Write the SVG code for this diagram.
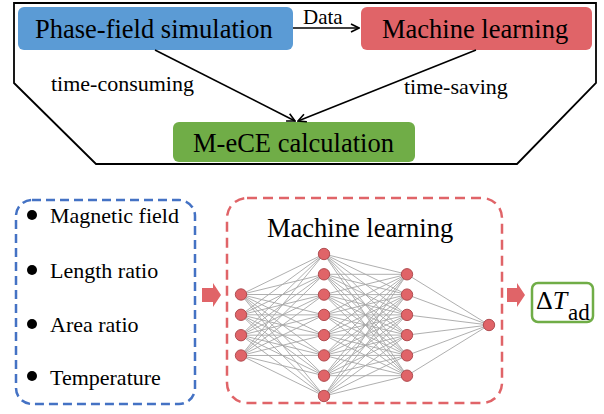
<svg xmlns="http://www.w3.org/2000/svg" width="604" height="414" viewBox="0 0 604 414">
  <style>
    text { font-family: "Liberation Serif", "Times New Roman", serif; fill: #000; }
    .big { font-size: 26.5px; }
    .mid { font-size: 22px; }
    .lbl { font-size: 21px; }
    .conn { fill: none; stroke: #000; stroke-width: 1.6; }
    .frame { fill: none; stroke: #000; stroke-width: 1.8; }
    .wire { fill: none; stroke: #a6a6a6; stroke-width: 0.9; }
    .neuron { fill: #e06468; stroke: #a94448; stroke-width: 0.9; }
    .block { fill: #e06468; }
  </style>
  <defs>
    <marker id="open" viewBox="0 0 10 10" refX="9" refY="5" markerWidth="10" markerHeight="10" markerUnits="userSpaceOnUse" orient="auto">
      <path d="M1 1L9 5L1 9" fill="none" stroke="#000" stroke-width="1.6"/>
    </marker>
  </defs>

  <!-- workflow frame -->
  <polygon class="frame" points="14,3 596,3 596,83 517,164 96,164 14,83"/>

  <g id="phase-field">
    <rect x="18" y="7" width="275" height="43" rx="6" fill="#5b9bd5"/>
    <text class="big" x="35" y="38">Phase-field simulation</text>
  </g>
  <g id="ml-top">
    <rect x="361" y="7" width="231" height="43" rx="6" fill="#e06468"/>
    <text class="big" x="382" y="38">Machine learning</text>
  </g>
  <g id="mece">
    <rect x="173" y="122" width="242" height="40" rx="6" fill="#70ad47"/>
    <text class="big" x="193" y="152">M-eCE calculation</text>
  </g>

  <g id="connectors">
    <line class="conn" x1="293" y1="28" x2="359" y2="28" marker-end="url(#open)"/>
    <line class="conn" x1="155" y1="50" x2="295" y2="121" marker-end="url(#open)"/>
    <line class="conn" x1="476" y1="50" x2="298" y2="121" marker-end="url(#open)"/>
    <text class="lbl" x="303" y="24">Data</text>
    <text class="mid" x="51" y="91">time-consuming</text>
    <text class="mid" x="404" y="94">time-saving</text>
    <polygon class="block" points="202,288 213,288 213,283 221,295 213,307 213,302 202,302"/>
    <polygon class="block" points="507,288 517,288 517,283 525,295 517,307 517,302 507,302"/>
  </g>

  <!-- input features -->
  <g id="inputs">
    <rect x="16" y="200" width="179" height="204" rx="16" fill="none" stroke="#4472c4" stroke-width="2.5" stroke-dasharray="9 5"/>
    <circle cx="32" cy="215" r="5"/>
    <circle cx="32" cy="270" r="5"/>
    <circle cx="32" cy="324" r="5"/>
    <circle cx="32" cy="376" r="5"/>
    <text class="mid" x="50" y="223">Magnetic field</text>
    <text class="mid" x="50" y="278">Length ratio</text>
    <text class="mid" x="50" y="332">Area ratio</text>
    <text class="mid" x="50" y="385">Temperature</text>
  </g>

  <!-- neural network -->
  <g id="network">
    <rect x="227" y="198" width="275" height="205" rx="20" fill="none" stroke="#e06468" stroke-width="2.5" stroke-dasharray="10 6"/>
    <text class="big" x="267" y="237">Machine learning</text>
    <path class="wire" d="
      M241 294.5L324 254M241 294.5L324 274.3M241 294.5L324 294.6M241 294.5L324 314.9M241 294.5L324 335.1M241 294.5L324 355.4M241 294.5L324 375.7M241 294.5L324 396
      M241 314.8L324 254M241 314.8L324 274.3M241 314.8L324 294.6M241 314.8L324 314.9M241 314.8L324 335.1M241 314.8L324 355.4M241 314.8L324 375.7M241 314.8L324 396
      M241 335.2L324 254M241 335.2L324 274.3M241 335.2L324 294.6M241 335.2L324 314.9M241 335.2L324 335.1M241 335.2L324 355.4M241 335.2L324 375.7M241 335.2L324 396
      M241 355.5L324 254M241 355.5L324 274.3M241 355.5L324 294.6M241 355.5L324 314.9M241 355.5L324 335.1M241 355.5L324 355.4M241 355.5L324 375.7M241 355.5L324 396
      M324 254L407 274.3M324 254L407 294.6M324 254L407 314.9M324 254L407 335.1M324 254L407 355.4M324 254L407 375.7
      M324 274.3L407 274.3M324 274.3L407 294.6M324 274.3L407 314.9M324 274.3L407 335.1M324 274.3L407 355.4M324 274.3L407 375.7
      M324 294.6L407 274.3M324 294.6L407 294.6M324 294.6L407 314.9M324 294.6L407 335.1M324 294.6L407 355.4M324 294.6L407 375.7
      M324 314.9L407 274.3M324 314.9L407 294.6M324 314.9L407 314.9M324 314.9L407 335.1M324 314.9L407 355.4M324 314.9L407 375.7
      M324 335.1L407 274.3M324 335.1L407 294.6M324 335.1L407 314.9M324 335.1L407 335.1M324 335.1L407 355.4M324 335.1L407 375.7
      M324 355.4L407 274.3M324 355.4L407 294.6M324 355.4L407 314.9M324 355.4L407 335.1M324 355.4L407 355.4M324 355.4L407 375.7
      M324 375.7L407 274.3M324 375.7L407 294.6M324 375.7L407 314.9M324 375.7L407 335.1M324 375.7L407 355.4M324 375.7L407 375.7
      M324 396L407 274.3M324 396L407 294.6M324 396L407 314.9M324 396L407 335.1M324 396L407 355.4M324 396L407 375.7
      M407 274.3L489 325M407 294.6L489 325M407 314.9L489 325M407 335.1L489 325M407 355.4L489 325M407 375.7L489 325"/>
    <g class="neuron">
      <circle cx="241" cy="294.5" r="5.7"/>
      <circle cx="241" cy="314.8" r="5.7"/>
      <circle cx="241" cy="335.2" r="5.7"/>
      <circle cx="241" cy="355.5" r="5.7"/>
      <circle cx="324" cy="254" r="5.7"/>
      <circle cx="324" cy="274.3" r="5.7"/>
      <circle cx="324" cy="294.6" r="5.7"/>
      <circle cx="324" cy="314.9" r="5.7"/>
      <circle cx="324" cy="335.1" r="5.7"/>
      <circle cx="324" cy="355.4" r="5.7"/>
      <circle cx="324" cy="375.7" r="5.7"/>
      <circle cx="324" cy="396" r="5.7"/>
      <circle cx="407" cy="274.3" r="5.7"/>
      <circle cx="407" cy="294.6" r="5.7"/>
      <circle cx="407" cy="314.9" r="5.7"/>
      <circle cx="407" cy="335.1" r="5.7"/>
      <circle cx="407" cy="355.4" r="5.7"/>
      <circle cx="407" cy="375.7" r="5.7"/>
      <circle cx="489" cy="325" r="5.7"/>
    </g>
  </g>

  <!-- output quantity -->
  <g id="output">
    <rect x="532" y="283" width="61" height="39" rx="6" fill="none" stroke="#70ad47" stroke-width="2.5"/>
    <text x="536" y="309" font-size="26">Δ<tspan font-style="italic">T</tspan><tspan x="568" y="320" font-size="23">ad</tspan></text>
  </g>
</svg>
